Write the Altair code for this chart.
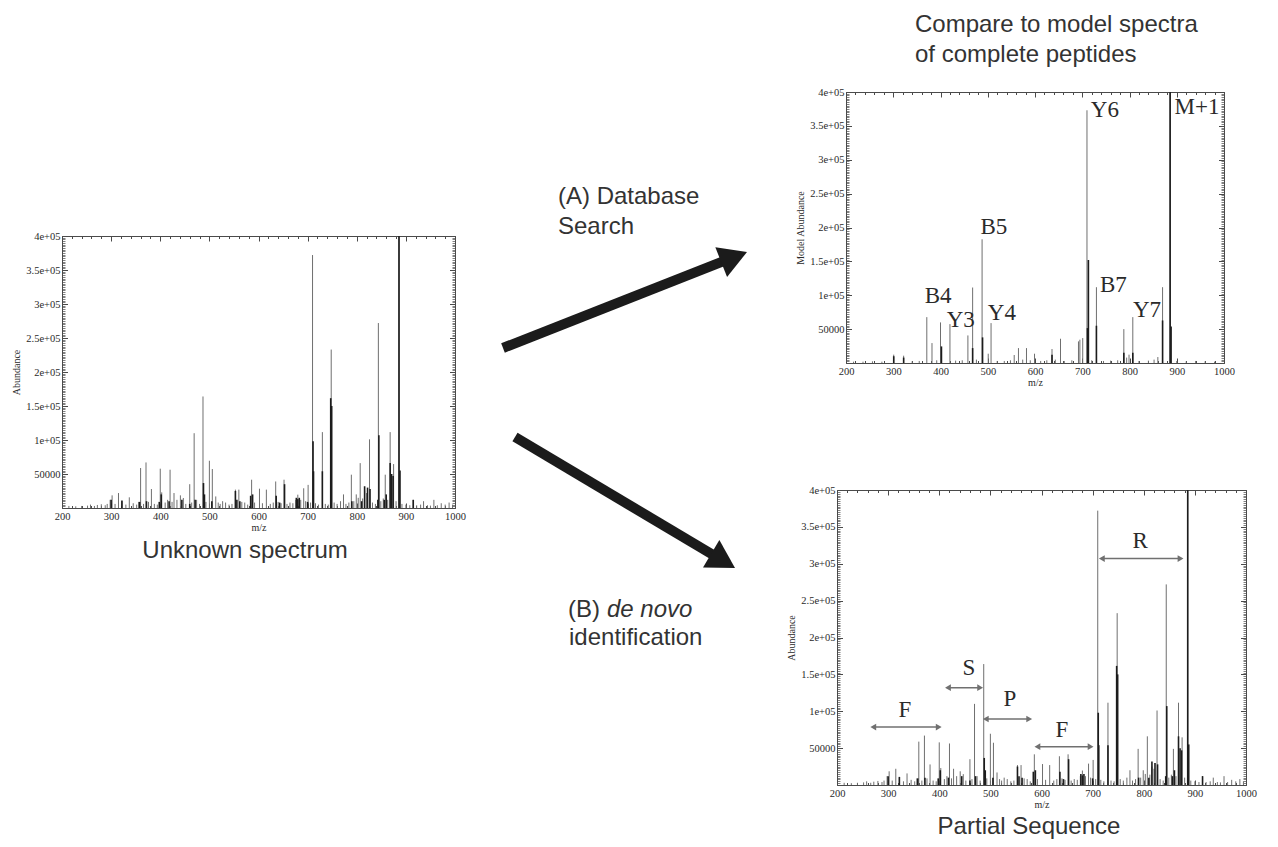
import math
import altair as alt
import pandas as pd

# ---------------------------------------------------------------- canvas
W, H = 1262, 831

# ---------------------------------------------------------------- axes data
MZ_DOMAIN = [200, 1000]
AB_DOMAIN = [0, 400000]
X_TICKS = [200, 300, 400, 500, 600, 700, 800, 900, 1000]
X_MINOR_TICKS = list(range(200, 1001, 20))
Y_TICKS = [50000, 100000, 150000, 200000, 250000, 300000, 350000, 400000]
Y_TICK_LABELS = ["50000", "1e+05", "1.5e+05", "2e+05", "2.5e+05", "3e+05", "3.5e+05", "4e+05"]
Y_MINOR_TICKS = list(range(0, 400001, 2500))

# ---------------------------------------------------------------- unknown (observed) spectrum
UNK_MZ = [214, 228, 240, 252, 258, 266, 272, 280, 288, 292, 298, 302, 308, 315, 322, 330, 337, 345,
          352, 356, 360, 366, 371, 376, 382, 388, 394, 400, 403, 410, 415, 420, 424, 428, 434, 441,
          447, 452, 460, 464, 469, 474, 480, 487, 493, 500, 506, 513, 518, 522, 527, 533, 540, 546,
          553, 560, 566, 572, 578, 586, 592, 602, 608, 616, 624, 630, 635, 640, 646, 652, 658, 664,
          670, 676, 680, 686, 692, 696, 701, 706, 710, 716, 722, 730, 736, 742, 748, 754, 760, 767,
          773, 778, 784, 789, 794, 799, 803, 807, 812, 816, 820, 826, 832, 838, 844, 849, 854, 858,
          863, 868, 875, 880, 886, 892, 900, 908, 915, 922, 930, 936, 944, 950, 957, 964, 972, 980,
          988, 995]
UNK_AB = [3000, 2500, 3000, 3500, 5000, 3000, 4500, 5500, 4000, 6000, 12000, 18600, 6000, 22000,
          10000, 5000, 15700, 7000, 5000, 9000, 58800, 6000, 67000, 9000, 27900, 6000, 5000, 57800,
          23000, 8000, 12000, 56300, 9000, 22000, 12000, 18600, 14700, 6000, 35000, 8000, 110000,
          12000, 6000, 164000, 9000, 69500, 57300, 17000, 8000, 6000, 10000, 8000, 5000, 6000, 27000,
          27000, 9000, 8000, 5000, 41600, 8000, 28400, 7000, 27000, 6000, 8000, 39000, 9000, 7000,
          41600, 6000, 8000, 7000, 12000, 19600, 12000, 29000, 10000, 34000, 8000, 372000, 7000,
          5000, 111600, 6000, 5000, 233000, 8000, 6000, 10000, 20000, 6000, 8000, 49000, 10000,
          20000, 15000, 66000, 14000, 25000, 22000, 101000, 8000, 6000, 272000, 10000, 14000, 49000,
          12000, 111600, 64600, 10000, 400000, 6000, 5000, 4000, 12000, 4000, 5000, 10000, 4000,
          3500, 12000, 4000, 7000, 5000, 8000, 5000]
UNK_DENSE_MZ = [300, 322, 358, 372, 398, 402, 418, 444, 460, 471, 488, 490, 505, 553, 556, 562, 584,
                588, 636, 643, 653, 677, 680, 683, 700, 711, 712, 730, 747, 749, 790, 810, 816, 822,
                827, 843, 845, 856, 860, 868, 871, 874, 886, 888, 915]
UNK_DENSE_AB = [12000, 11000, 9000, 10000, 9000, 20000, 10000, 12000, 6000, 12000, 36700, 20000,
                10000, 25000, 12000, 10000, 18000, 20000, 18000, 8000, 35000, 15000, 13000, 15000,
                9000, 98000, 54000, 54000, 161500, 150000, 10000, 10000, 32000, 30000, 28000, 12000,
                107000, 12000, 20000, 66000, 50000, 47000, 400000, 55000, 12000]

# ---------------------------------------------------------------- model spectrum
MOD_MZ = [216, 236, 256, 276, 301, 322, 340, 355, 371, 382, 392, 400, 420, 432, 446, 458, 468, 476,
          488, 501, 507, 520, 535, 548, 556, 565, 574, 582, 590, 599, 612, 625, 636, 643, 654, 662,
          678, 692, 695, 701, 710, 720, 730, 745, 760, 775, 788, 794, 799, 807, 820, 840, 852, 860,
          870, 886, 900, 920, 940, 960, 980]
MOD_AB = [2000, 2000, 2500, 2000, 12300, 10800, 2500, 3000, 67700, 29400, 4000, 59900, 57400, 3500,
          4000, 40700, 111400, 5000, 182600, 13700, 58900, 3000, 3000, 4000, 11800, 22000, 5000,
          22000, 4000, 13700, 3000, 4000, 20600, 5000, 35800, 3000, 4000, 31900, 34400, 36800,
          373000, 4000, 111900, 3000, 3500, 4000, 50000, 8000, 12300, 67700, 3000, 3500, 5000, 8800,
          111900, 400000, 3000, 2500, 3000, 2500, 2000]
MOD_DENSE_MZ = [301, 322, 402, 468, 489, 636, 711, 713, 730, 788, 807, 870, 886, 888]
MOD_DENSE_AB = [10000, 8000, 24500, 22000, 37800, 12000, 51500, 152000, 55000, 15000, 15000, 62800,
                400000, 54000]

# ---------------------------------------------------------------- annotations
MOD_LABELS = ["B4", "Y3", "B5", "Y4", "Y6", "B7", "Y7", "M+1"]
MOD_LABEL_MZ = [395, 443, 513, 530, 748, 766, 837, 943]
MOD_LABEL_AB = [99000, 63500, 200700, 73800, 373000, 115000, 78000, 378000]

SEQ_LABELS = ["F", "S", "P", "F", "R"]
SEQ_LABEL_MZ = [333, 458, 538, 640, 793]
SEQ_LABEL_AB = [102000, 158000, 116000, 75000, 331000]
SEQ_SPAN_FROM = [271, 417, 491, 592, 718]
SEQ_SPAN_TO = [399, 480, 576, 696, 872]
SEQ_SPAN_AB = [78600, 132000, 89500, 52000, 307000]

ARROW_TAIL_X = [495, 507]
ARROW_TAIL_Y = [340, 429]
ARROW_TIP_X = [739, 727]
ARROW_TIP_Y = [244, 560]

TEXT_LEFT = ["(A) Database", "Search", "(B)", "identification", "Compare to model spectra",
             "of complete peptides"]
TEXT_LEFT_X = [550, 550, 560, 561, 907, 907]
TEXT_LEFT_Y = [196, 226, 609, 637, 24, 54]
TEXT_ITALIC = ["de novo"]
TEXT_ITALIC_X = [599]
TEXT_ITALIC_Y = [609]
TEXT_CENTER = ["Unknown spectrum", "Partial Sequence"]
TEXT_CENTER_X = [237, 1021]
TEXT_CENTER_Y = [550, 826]

# ---------------------------------------------------------------- layout / style
BOX_UNKNOWN = (54, 447, 228, 500)    # x0, x1, y0 (top), y1 (bottom)
BOX_MODEL = (838, 1216, 84, 355)
BOX_SEQ = (829, 1238, 482, 777)

SERIF = "Liberation Serif"
SANS = "Liberation Sans"
AXIS_COLOR = "#4a4a4a"
TEXT_COLOR = "#2a2a2a"
THIN_COLOR = "#6f6f6f"
DENSE_COLOR = "#1c1c1c"
ANNOT_GRAY = "#707070"

Y_LABEL_EXPR = "".join(f"datum.value == {v} ? '{t}' : " for v, t in zip(Y_TICKS, Y_TICK_LABELS)) + "''"


def rules_df(mz, ab):
    return pd.DataFrame({"mz": mz, "ab": ab, "base": [0] * len(mz)})


def spectrum_panel(box, thin, dense, y_title, extras=()):
    x0, x1, y0, y1 = box
    xs = alt.Scale(domain=MZ_DOMAIN, range=[x0, x1], nice=False, zero=False)
    ys = alt.Scale(domain=AB_DOMAIN, range=[y1, y0], nice=False, zero=False)
    style = dict(grid=False, tickColor=AXIS_COLOR, domainColor=AXIS_COLOR, tickWidth=1, domainWidth=1)

    def tick_axis(orient, offset, values, size, domain=False, width=1):
        s = dict(style)
        s["tickWidth"] = width
        return alt.Axis(orient=orient, offset=offset, values=values, labels=False, ticks=True,
                        tickSize=size, domain=domain, title=None, **s)

    lab = dict(labels=True, ticks=False, tickSize=0, domain=True, labelFont=SERIF, labelFontSize=10.5,
               labelColor=TEXT_COLOR, labelFlush=False, labelOverlap=False, titleFont=SERIF,
               titleFontSize=10, titleFontWeight="normal", titleColor=TEXT_COLOR, **style)
    x_axes = [
        alt.Axis(orient="bottom", offset=y1 - H, values=X_TICKS, format="d", title="m/z",
                 labelPadding=3, titlePadding=1, **lab),
        tick_axis("top", -y1, X_TICKS, 5),
        tick_axis("top", -y1, X_MINOR_TICKS, 2.5),
        tick_axis("bottom", y0 - H, X_TICKS, 5, True),
        tick_axis("bottom", y0 - H, X_MINOR_TICKS, 2.5),
    ]
    y_axes = [
        alt.Axis(orient="left", offset=-x0, values=Y_TICKS, labelExpr=Y_LABEL_EXPR, title=y_title,
                 labelPadding=2, titlePadding=4, **lab),
        tick_axis("right", x0 - W, Y_TICKS, 5.5),
        tick_axis("right", x0 - W, Y_MINOR_TICKS, 3, width=0.7),
        tick_axis("left", -x1, Y_TICKS, 5.5, True),
        tick_axis("left", -x1, Y_MINOR_TICKS, 3, width=0.7),
    ]
    layers = [
        alt.Chart(thin).mark_rule(color=THIN_COLOR, strokeWidth=1).encode(
            x=alt.X("mz:Q", scale=xs, axis=x_axes[0]),
            y=alt.Y("ab:Q", scale=ys, axis=y_axes[0]),
            y2="base:Q"),
        alt.Chart(dense).mark_rule(color=DENSE_COLOR, strokeWidth=1.6).encode(
            x=alt.X("mz:Q", scale=xs, axis=x_axes[1]),
            y=alt.Y("ab:Q", scale=ys, axis=y_axes[1]),
            y2="base:Q"),
    ]
    carrier = pd.DataFrame({"mz": [MZ_DOMAIN[0]], "ab": [AB_DOMAIN[0]]})
    for i in (2, 3, 4):
        layers.append(alt.Chart(carrier).mark_point(opacity=0).encode(
            x=alt.X("mz:Q", scale=xs, axis=x_axes[i]),
            y=alt.Y("ab:Q", scale=ys, axis=y_axes[i])))
    for make in extras:
        layers.extend(make(xs, ys))
    return alt.layer(*layers).resolve_axis(x="independent", y="independent")


def peak_labels(texts, mz, ab):
    def make(xs, ys):
        df = pd.DataFrame({"t": texts, "mz": mz, "ab": ab})
        return [alt.Chart(df).mark_text(font=SERIF, fontSize=23, color=TEXT_COLOR, align="center",
                                        baseline="middle").encode(
            x=alt.X("mz:Q", scale=xs, axis=None), y=alt.Y("ab:Q", scale=ys, axis=None), text="t:N")]
    return make


def spans(a, b, ab):
    def make(xs, ys):
        df = pd.DataFrame({"a": a, "b": b, "ab": ab})
        line = alt.Chart(df).mark_rule(color=ANNOT_GRAY, strokeWidth=1.5).encode(
            x=alt.X("a:Q", scale=xs, axis=None), x2="b:Q", y=alt.Y("ab:Q", scale=ys, axis=None))
        left = alt.Chart(df).mark_point(shape="triangle-left", filled=True, size=45, opacity=1,
                                        color=ANNOT_GRAY).encode(
            x=alt.X("a:Q", scale=xs, axis=None), y=alt.Y("ab:Q", scale=ys, axis=None))
        right = alt.Chart(df).mark_point(shape="triangle-right", filled=True, size=45, opacity=1,
                                         color=ANNOT_GRAY).encode(
            x=alt.X("b:Q", scale=xs, axis=None), y=alt.Y("ab:Q", scale=ys, axis=None))
        return [line, left, right]
    return make


unknown = spectrum_panel(BOX_UNKNOWN, rules_df(UNK_MZ, UNK_AB), rules_df(UNK_DENSE_MZ, UNK_DENSE_AB),
                         "Abundance")
model = spectrum_panel(BOX_MODEL, rules_df(MOD_MZ, MOD_AB), rules_df(MOD_DENSE_MZ, MOD_DENSE_AB),
                       "Model Abundance", extras=[peak_labels(MOD_LABELS, MOD_LABEL_MZ, MOD_LABEL_AB)])
sequence = spectrum_panel(BOX_SEQ, rules_df(UNK_MZ, UNK_AB), rules_df(UNK_DENSE_MZ, UNK_DENSE_AB),
                          "Abundance",
                          extras=[spans(SEQ_SPAN_FROM, SEQ_SPAN_TO, SEQ_SPAN_AB),
                                  peak_labels(SEQ_LABELS, SEQ_LABEL_MZ, SEQ_LABEL_AB)])

# ---------------------------------------------------------------- diagram layer (arrows + captions)
cx = alt.Scale(domain=[0, W], range=[0, W], nice=False, zero=False)
cy = alt.Scale(domain=[0, H], range=[0, H], nice=False, zero=False)

HEAD_SIDE = 32
arrows = pd.DataFrame({"tx": ARROW_TAIL_X, "ty": ARROW_TAIL_Y, "hx": ARROW_TIP_X, "hy": ARROW_TIP_Y})
dx = arrows.hx - arrows.tx
dy = arrows.hy - arrows.ty
ln = (dx ** 2 + dy ** 2) ** 0.5
ux, uy = dx / ln, dy / ln
arrows["sx"] = arrows.hx - ux * HEAD_SIDE * 0.7
arrows["sy"] = arrows.hy - uy * HEAD_SIDE * 0.7
arrows["cxh"] = arrows.hx - ux * HEAD_SIDE * 0.433
arrows["cyh"] = arrows.hy - uy * HEAD_SIDE * 0.433
arrows["ang"] = [math.degrees(math.atan2(a, -b)) % 360 for a, b in zip(ux, uy)]

shaft = alt.Chart(arrows).mark_rule(color="#1b1b1b", strokeWidth=10).encode(
    x=alt.X("tx:Q", scale=cx, axis=None), x2="sx:Q",
    y=alt.Y("ty:Q", scale=cy, axis=None), y2="sy:Q")
head = alt.Chart(arrows).mark_point(shape="triangle-up", filled=True, opacity=1, color="#1b1b1b",
                                    size=HEAD_SIDE ** 2).encode(
    x=alt.X("cxh:Q", scale=cx, axis=None), y=alt.Y("cyh:Q", scale=cy, axis=None),
    angle=alt.Angle("ang:Q", scale=None))


def text_layer(texts, xs_, ys_, align, italic=False):
    df = pd.DataFrame({"t": texts, "x": xs_, "y": ys_})
    kw = dict(font=SANS, fontSize=24, color="#333333", align=align, baseline="alphabetic")
    if italic:
        kw["fontStyle"] = "italic"
    return alt.Chart(df).mark_text(**kw).encode(
        x=alt.X("x:Q", scale=cx, axis=None), y=alt.Y("y:Q", scale=cy, axis=None), text="t:N")


diagram = alt.layer(
    shaft, head,
    text_layer(TEXT_LEFT, TEXT_LEFT_X, TEXT_LEFT_Y, "left"),
    text_layer(TEXT_ITALIC, TEXT_ITALIC_X, TEXT_ITALIC_Y, "left", italic=True),
    text_layer(TEXT_CENTER, TEXT_CENTER_X, TEXT_CENTER_Y, "center"),
)

chart = alt.layer(unknown, model, sequence, diagram).resolve_scale(
    x="independent", y="independent"
).properties(
    width=W, height=H, padding=0, autosize=alt.AutoSizeParams(type="none"), background="white"
).configure_view(stroke=None)

chart.save("out.html", embed_options={"renderer": "svg", "actions": False})
